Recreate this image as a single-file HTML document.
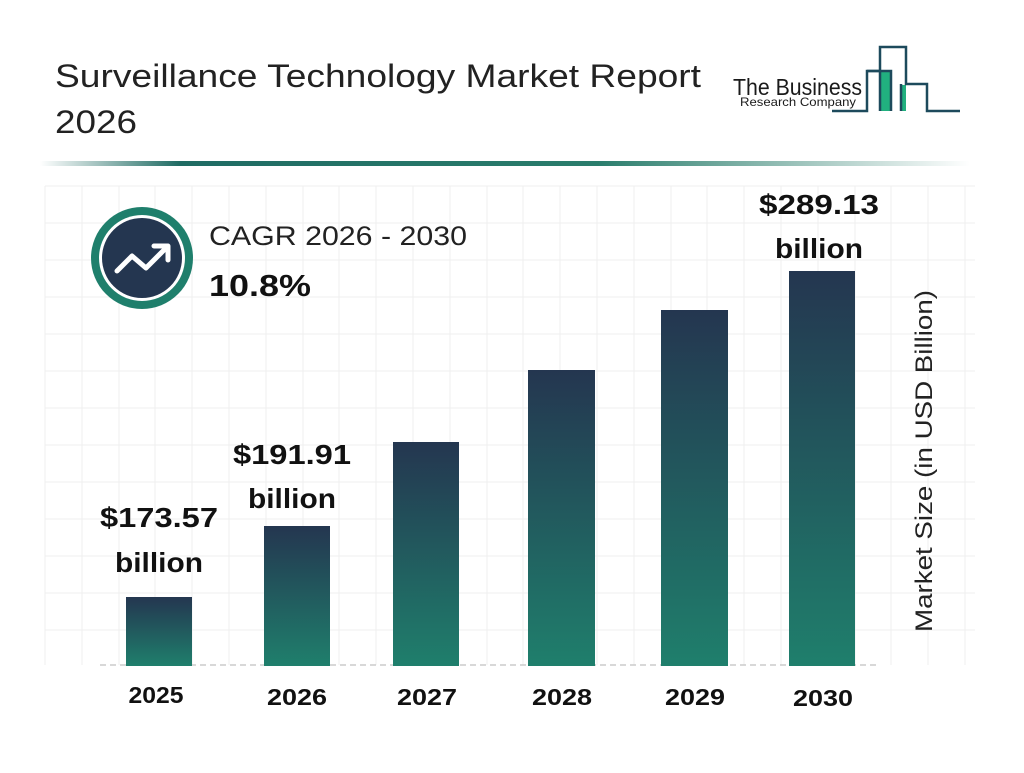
<!DOCTYPE html>
<html><head><meta charset="utf-8"><style>
body{margin:0;width:1024px;height:768px;background:#fff;overflow:hidden;font-family:"Liberation Sans",Arial,sans-serif;}
</style></head><body>
<svg width="1024" height="768" viewBox="0 0 1024 768" xmlns="http://www.w3.org/2000/svg">
<defs>
<linearGradient id="bg" x1="0" y1="0" x2="0" y2="1"><stop offset="0" stop-color="#243650"/><stop offset="1" stop-color="#1f7f6c"/></linearGradient>
<linearGradient id="hr" x1="0" y1="0" x2="1" y2="0"><stop offset="0" stop-color="#fff"/><stop offset="0.15" stop-color="#1f6b63"/><stop offset="0.6" stop-color="#2a7d6c"/><stop offset="1" stop-color="#fff"/></linearGradient>
</defs>
<g stroke="#efefef" stroke-width="1">
<line x1="45" y1="186" x2="45" y2="665"/><line x1="82" y1="186" x2="82" y2="665"/><line x1="119" y1="186" x2="119" y2="665"/><line x1="155" y1="186" x2="155" y2="665"/><line x1="192" y1="186" x2="192" y2="665"/><line x1="229" y1="186" x2="229" y2="665"/><line x1="266" y1="186" x2="266" y2="665"/><line x1="303" y1="186" x2="303" y2="665"/><line x1="339" y1="186" x2="339" y2="665"/><line x1="376" y1="186" x2="376" y2="665"/><line x1="413" y1="186" x2="413" y2="665"/><line x1="450" y1="186" x2="450" y2="665"/><line x1="487" y1="186" x2="487" y2="665"/><line x1="523" y1="186" x2="523" y2="665"/><line x1="560" y1="186" x2="560" y2="665"/><line x1="597" y1="186" x2="597" y2="665"/><line x1="634" y1="186" x2="634" y2="665"/><line x1="671" y1="186" x2="671" y2="665"/><line x1="707" y1="186" x2="707" y2="665"/><line x1="744" y1="186" x2="744" y2="665"/><line x1="781" y1="186" x2="781" y2="665"/><line x1="818" y1="186" x2="818" y2="665"/><line x1="855" y1="186" x2="855" y2="665"/><line x1="891" y1="186" x2="891" y2="665"/><line x1="928" y1="186" x2="928" y2="665"/><line x1="965" y1="186" x2="965" y2="665"/>
<line x1="45" y1="186" x2="975" y2="186"/><line x1="45" y1="223" x2="975" y2="223"/><line x1="45" y1="260" x2="975" y2="260"/><line x1="45" y1="297" x2="975" y2="297"/><line x1="45" y1="334" x2="975" y2="334"/><line x1="45" y1="371" x2="975" y2="371"/><line x1="45" y1="408" x2="975" y2="408"/><line x1="45" y1="445" x2="975" y2="445"/><line x1="45" y1="482" x2="975" y2="482"/><line x1="45" y1="519" x2="975" y2="519"/><line x1="45" y1="556" x2="975" y2="556"/><line x1="45" y1="593" x2="975" y2="593"/><line x1="45" y1="630" x2="975" y2="630"/>
</g>
<line x1="100" y1="665" x2="880" y2="665" stroke="#ccc" stroke-width="1.5" stroke-dasharray="6,4"/>
<text x="55" y="87" font-size="32" fill="#222" textLength="646" lengthAdjust="spacingAndGlyphs">Surveillance Technology Market Report</text>
<text x="55" y="133" font-size="32" fill="#222" textLength="82" lengthAdjust="spacingAndGlyphs">2026</text>
<rect x="40" y="161" width="930" height="5" fill="url(#hr)"/>
<!-- logo -->
<text x="733" y="95" font-size="23" fill="#1a1a1a" textLength="129" lengthAdjust="spacingAndGlyphs">The Business</text>
<text x="740" y="106" font-size="12" fill="#1a1a1a" textLength="116" lengthAdjust="spacingAndGlyphs">Research Company</text>
<rect x="880" y="72" width="11" height="39" fill="#21b07f"/>
<rect x="901" y="85" width="5" height="26" fill="#21b07f"/>
<g fill="none" stroke="#1d4a5c" stroke-width="2.5">
<polyline points="832,111 867,111 867,71 880,71 880,47 906,47 906,84 927,84 927,111 960,111"/>
<polyline points="867,71 891,71 891,111"/>
<polyline points="880,71 880,111"/>
<polyline points="901,84 901,111"/>
</g>
<!-- CAGR icon -->
<circle cx="142" cy="258" r="51" fill="#1f7f6c"/>
<circle cx="142" cy="258" r="43" fill="#fff"/>
<circle cx="142" cy="258" r="40" fill="#243650"/>
<polyline points="117,271 132,256 146,268 166,248" fill="none" stroke="#fff" stroke-width="5" stroke-linecap="round" stroke-linejoin="round"/>
<polyline points="154,246 168,246 168,260" fill="none" stroke="#fff" stroke-width="5" stroke-linecap="round" stroke-linejoin="round"/>
<text x="209" y="245" font-size="27" fill="#222" textLength="258" lengthAdjust="spacingAndGlyphs">CAGR 2026 - 2030</text>
<text x="209" y="296" font-size="31" font-weight="bold" fill="#111" textLength="102" lengthAdjust="spacingAndGlyphs">10.8%</text>
<!-- bars -->
<rect x="126" y="597" width="66" height="69" fill="url(#bg)"/>
<rect x="264" y="526" width="66" height="140" fill="url(#bg)"/>
<rect x="393" y="442" width="66" height="224" fill="url(#bg)"/>
<rect x="528" y="370" width="67" height="296" fill="url(#bg)"/>
<rect x="661" y="310" width="67" height="356" fill="url(#bg)"/>
<rect x="789" y="271" width="66" height="395" fill="url(#bg)"/>
<g font-weight="bold" font-size="28" fill="#111" text-anchor="middle">
<text x="159" y="527" textLength="118" lengthAdjust="spacingAndGlyphs">$173.57</text><text x="159" y="572" textLength="88" lengthAdjust="spacingAndGlyphs">billion</text>
<text x="292" y="464" textLength="118" lengthAdjust="spacingAndGlyphs">$191.91</text><text x="292" y="508" textLength="88" lengthAdjust="spacingAndGlyphs">billion</text>
<text x="819" y="214" textLength="120" lengthAdjust="spacingAndGlyphs">$289.13</text><text x="819" y="258" textLength="88" lengthAdjust="spacingAndGlyphs">billion</text>
</g>
<g font-weight="bold" font-size="23" fill="#111" text-anchor="middle">
<text x="156" y="703" textLength="55" lengthAdjust="spacingAndGlyphs">2025</text><text x="297" y="705" textLength="60" lengthAdjust="spacingAndGlyphs">2026</text><text x="427" y="705" textLength="60" lengthAdjust="spacingAndGlyphs">2027</text><text x="562" y="705" textLength="60" lengthAdjust="spacingAndGlyphs">2028</text><text x="695" y="705" textLength="60" lengthAdjust="spacingAndGlyphs">2029</text><text x="823" y="706" textLength="60" lengthAdjust="spacingAndGlyphs">2030</text>
</g>
<text transform="translate(932,461) rotate(-90)" font-size="24" fill="#222" text-anchor="middle" textLength="342" lengthAdjust="spacingAndGlyphs">Market Size (in USD Billion)</text>
</svg>
</body></html>
